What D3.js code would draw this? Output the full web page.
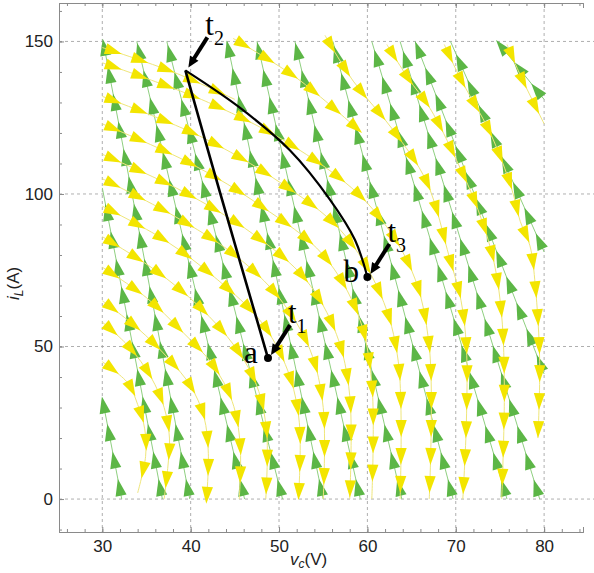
<!DOCTYPE html>
<html>
<head>
<meta charset="utf-8">
<script src="https://cdn.jsdelivr.net/npm/d3@7"></script>
<style>
body { margin: 0; background: #fff; }
text { font-family: "Liberation Sans", Arial, sans-serif; }
.serif { font-family: "Liberation Serif", "Times New Roman", serif; }
</style>
</head>
<body>
<div id="chart"></div>
<script>
// axis ticks
var xTicks = [30, 40, 50, 60, 70, 80];
var yTicks = [0, 50, 100, 150];
var xMinor = d3.range(26, 85, 2);
var yMinor = d3.range(-10, 161, 10);

// green streamlines (switch on), [vc, iL] from bottom to top
var greenLines = [
  [[32.2, 0], [30, 33]],
  [[36.8, 0], [30, 102]],
  [[39.9, 0], [30.1, 150]],
  [[46.1, 0], [33.9, 150]],
  [[50.4, 0], [37.3, 150]],
  [[55.0, 0], [44.1, 150]],
  [[59.2, 0], [47.5, 150]],
  [[63.9, 0], [51.8, 150]],
  [[69.7, 0], [56.1, 150]],
  [[75.8, 0], [60.5, 150]],
  [[79.5, 0], [63.7, 150]],
  [[80, 41], [65.4, 150]],
  [[80, 81], [69.4, 150]],
  [[80, 131], [74.7, 150]]
];

// yellow streamlines (switch off), [vc, iL] in flow order
var yellowLines = [
  [[30, 45], [32.9, 38], [34, 31], [34.8, 23], [34.9, 14], [34, 2]],
  [[30, 58], [33, 50], [35.5, 40], [37, 30], [37.6, 20], [37.4, 10], [37, 0]],
  [[30, 65], [34, 56], [37.5, 46], [40, 37], [41.5, 27], [42, 15], [41.8, 0]],
  [[30, 76], [35, 66], [39, 55], [42.5, 44], [44.7, 32], [45.6, 18], [45.5, 0]],
  [[30, 86], [36, 75], [41, 63], [45, 50], [47.5, 37], [48.6, 22], [48.5, 0]],
  [[30, 96], [37, 85], [43, 72], [48, 58], [51, 42], [52.3, 25], [52.2, 0]],
  [[30, 105], [38, 93], [45, 80], [50, 66], [53.5, 49], [55, 30], [55, 0]],
  [[30, 113], [39, 101], [47, 87], [53, 72], [56.5, 54], [58, 34], [58, 0]],
  [[30, 123], [40, 110], [48, 96], [55, 80], [59, 60], [60.5, 38], [60.5, 0]],
  [[30, 132], [41, 119], [50, 104], [57, 88], [61.5, 67], [63.5, 45], [63.7, 0]],
  [[30, 143], [42, 130], [52, 115], [60, 97], [65, 75], [67, 50], [67, 0]],
  [[30, 148], [38, 140], [45, 131]],
  [[44.8, 151], [52, 138], [59, 121]],
  [[55.2, 152], [58.4, 137], [62.9, 121], [66.7, 104], [69.3, 79], [70.6, 65], [71.2, 50], [71.2, 25], [70.8, 0]],
  [[62.2, 149], [64.6, 138], [67.1, 128], [70.1, 111], [72.5, 95], [74.3, 78], [75.2, 60], [75.5, 35], [75.2, 0]],
  [[68.7, 149], [70.5, 138], [73.9, 120], [76.3, 102], [77.3, 91], [78.4, 83], [79, 70], [79.5, 45], [79.3, 20]],
  [[75.8, 149], [77.3, 139], [78.8, 130], [80, 123]]
];

// operating trajectory
var pathOn = [[48.75, 46.2], [43.3, 100.7], [39.4, 140.5]];
var pathOff = [[39.4, 140.5], [45.6, 128.2], [51.2, 114.4], [55.8, 98.0], [58.6, 84.9], [60.0, 72.8]];
var dots = [
  { name: 'a', v: 48.75, i: 46.2 },
  { name: 'b', v: 60.0, i: 72.8 }
];
var instants = [
  { sub: '1', v: 48.75, i: 46.2 },
  { sub: '2', v: 39.4, i: 140.5 },
  { sub: '3', v: 60.0, i: 72.8 }
];

var width = 594, height = 573;
var svg = d3.select('#chart').append('svg')
  .attr('width', width)
  .attr('height', height);

var x = d3.scaleLinear().domain([25.1, 84.4]).range([59, 583]);
var y = d3.scaleLinear().domain([-10.8, 162.6]).range([532, 3]);

var frameColor = '#8a8a8a';

svg.append('clipPath').attr('id', 'plot')
  .append('rect')
  .attr('x', x.range()[0]).attr('y', y.range()[1])
  .attr('width', x.range()[1] - x.range()[0])
  .attr('height', y.range()[0] - y.range()[1]);

// grid
var grid = svg.append('g').attr('stroke', '#9a9a9a').attr('stroke-dasharray', '3,3').attr('stroke-width', 0.8);
grid.selectAll('line.gx').data(xTicks).enter().append('line')
  .attr('x1', function(d) { return x(d); }).attr('x2', function(d) { return x(d); })
  .attr('y1', y.range()[1]).attr('y2', y.range()[0]);
grid.selectAll('line.gy').data(yTicks).enter().append('line')
  .attr('x1', x.range()[0]).attr('x2', width)
  .attr('y1', function(d) { return y(d); }).attr('y2', function(d) { return y(d); });

// field
var field = svg.append('g').attr('clip-path', 'url(#plot)');
var line = d3.line()
  .x(function(d) { return x(d[0]); })
  .y(function(d) { return y(d[1]); });

function addArrows(g, node, color, step, start) {
  var len = node.getTotalLength();
  for (var s = start; s < len - 3; s += step) {
    var p0 = node.getPointAtLength(Math.max(0, s - 1));
    var p1 = node.getPointAtLength(Math.min(len, s + 1));
    var p = node.getPointAtLength(s);
    var ang = Math.atan2(p1.y - p0.y, p1.x - p0.x) * 180 / Math.PI;
    g.append('path')
      .attr('d', 'M8.5,0L-8.5,-5.6L-8.5,5.6Z')
      .attr('transform', 'translate(' + p.x + ',' + p.y + ')rotate(' + ang + ')')
      .attr('fill', color);
  }
}

function drawField(data, lineColor, headColor, curve) {
  var g = field.append('g');
  line.curve(curve);
  g.selectAll('path.s').data(data).enter().append('path')
    .attr('class', 's')
    .attr('d', line)
    .attr('fill', 'none')
    .attr('stroke', lineColor)
    .attr('stroke-width', 1);
  g.selectAll('path.s').each(function() {
    addArrows(g, this, headColor, 28, 12);
  });
}

drawField(greenLines, '#8fcf80', '#5cb646', d3.curveLinear);
drawField(yellowLines, '#efe67a', '#f3e500', d3.curveCatmullRom);

// frame and ticks
var axes = svg.append('g');
function frameAxis(axis, tr, ticks, size, labels) {
  var g = axes.append('g').attr('transform', tr)
    .call(axis.tickValues(ticks).tickSize(size).tickPadding(labels ? 8 : 0)
      .tickFormat(labels ? d3.format('d') : ''));
  g.select('.domain').attr('stroke', frameColor);
  g.selectAll('.tick line').attr('stroke', frameColor);
  g.selectAll('text').attr('fill', '#222').style('font-size', '17px');
  return g;
}
frameAxis(d3.axisBottom(x), 'translate(0,' + y.range()[0] + ')', xTicks, -5, true);
frameAxis(d3.axisBottom(x), 'translate(0,' + y.range()[0] + ')', xMinor, -3, false);
frameAxis(d3.axisLeft(y), 'translate(' + x.range()[0] + ',0)', yTicks, -5, true)
  .selectAll('text').attr('dx', '2');
frameAxis(d3.axisLeft(y), 'translate(' + x.range()[0] + ',0)', yMinor, -3, false);
frameAxis(d3.axisTop(x), 'translate(0,' + y.range()[1] + ')', xTicks, -5, false);
frameAxis(d3.axisTop(x), 'translate(0,' + y.range()[1] + ')', xMinor, -3, false);

// axis titles
var xt = svg.append('text').attr('x', 290).attr('y', 565).style('font-size', '17px').attr('fill', '#222');
xt.append('tspan').style('font-style', 'italic').text('v');
xt.append('tspan').attr('dy', 3).style('font-size', '12px').style('font-style', 'italic').text('c');
xt.append('tspan').attr('dy', -3).text('(V)');

var yt = svg.append('text').attr('transform', 'translate(19,300) rotate(-90)').style('font-size', '17px').attr('fill', '#222');
yt.append('tspan').style('font-style', 'italic').text('i');
yt.append('tspan').attr('dy', 4).style('font-size', '12px').style('font-style', 'italic').text('L');
yt.append('tspan').attr('dy', -4).text('(A)');

// trajectory
line.curve(d3.curveCatmullRom);
svg.append('path').attr('d', line(pathOn)).attr('fill', 'none').attr('stroke', '#000').attr('stroke-width', 2.6);
svg.append('path').attr('d', line(pathOff)).attr('fill', 'none').attr('stroke', '#000').attr('stroke-width', 2.2);

svg.selectAll('circle.dot').data(dots).enter().append('circle')
  .attr('cx', function(d) { return x(d.v); })
  .attr('cy', function(d) { return y(d.i); })
  .attr('r', 4).attr('fill', '#000');

svg.selectAll('text.dl').data(dots).enter().append('text')
  .attr('class', 'serif')
  .attr('x', function(d) { return x(d.v) - 24; })
  .attr('y', function(d) { return y(d.i) + 5; })
  .style('font-size', '31px').attr('fill', '#000')
  .text(function(d) { return d.name; });

// time markers with pointing arrows
instants.forEach(function(d) {
  var px = x(d.v), py = y(d.i);
  var tx = px + 3, ty = py - 3;
  var sx = px + 22, sy = py - 33;
  var ang = Math.atan2(ty - sy, tx - sx) * 180 / Math.PI;
  svg.append('line')
    .attr('x1', sx).attr('y1', sy).attr('x2', tx - 7 * Math.cos(ang * Math.PI / 180)).attr('y2', ty - 7 * Math.sin(ang * Math.PI / 180))
    .attr('stroke', '#000').attr('stroke-width', 4);
  svg.append('path').attr('d', 'M0,0L-11,-5L-11,5Z')
    .attr('transform', 'translate(' + tx + ',' + ty + ')rotate(' + ang + ')')
    .attr('fill', '#000');
  var t = svg.append('text').attr('class', 'serif')
    .attr('x', sx - 2).attr('y', sy - 2)
    .style('font-size', '31px').attr('fill', '#000');
  t.append('tspan').text('t');
  t.append('tspan').attr('dy', 10).style('font-size', '20px').text(d.sub);
});
</script>
</body>
</html>
